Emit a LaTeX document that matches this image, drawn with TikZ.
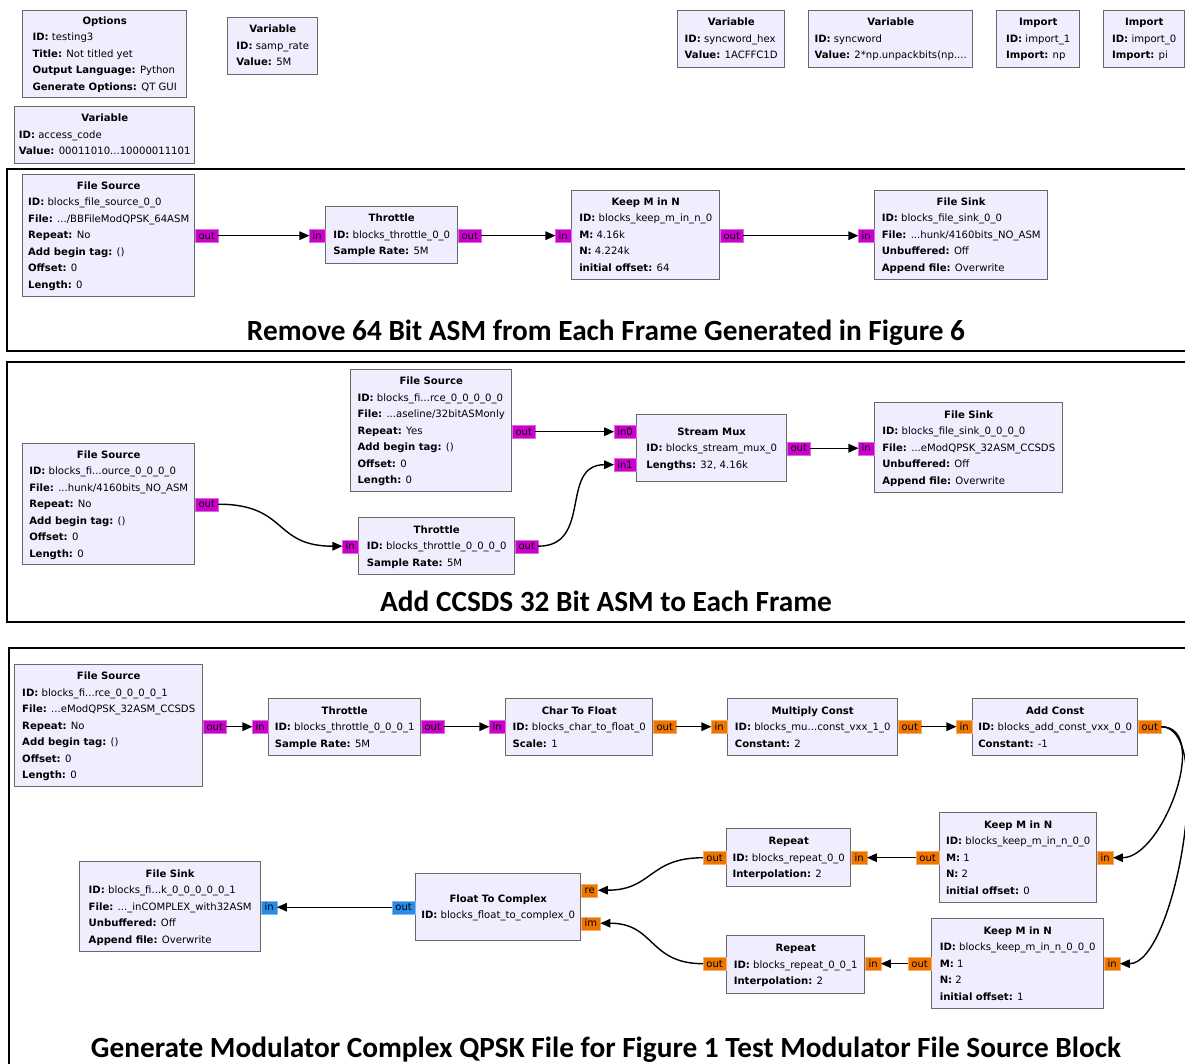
\documentclass[tikz,border=0pt]{standalone}
\usepackage{fontspec}
\setmainfont{DejaVu Sans}
\newfontfamily\capfont{Carlito}
\usetikzlibrary{arrows.meta}
\setlength{\parindent}{0pt}
\definecolor{blkfill}{RGB}{240,237,255}
\definecolor{blkline}{RGB}{105,105,105}
\definecolor{bytec}{RGB}{204,0,204}
\definecolor{floatc}{RGB}{238,118,0}
\definecolor{cplxc}{RGB}{40,140,230}
\newcommand{\blkt}[2]{\begin{tabular}{@{}l@{}}\multicolumn{1}{@{}c@{}}{\textbf{#1}}\\#2\end{tabular}}
\tikzset{
  blk/.style={draw=blkline, fill=blkfill, line width=1.4pt, anchor=north west, inner sep=0pt,
    font=\fontsize{10.1}{16.5}\selectfont},
  port/.style={inner xsep=3pt, inner ysep=0pt, minimum height=13pt, text height=7pt,
    text depth=0pt, line width=0.4pt, font=\fontsize{10}{11}\selectfont},
  bp/.style={port, fill=bytec, draw=bytec!60!white},
  fp/.style={port, fill=floatc, draw=floatc!60!white},
  cp/.style={port, fill=cplxc, draw=cplxc!60!white},
  link/.style={line width=1.4pt, -{Triangle[length=10pt,width=8.5pt]}},
  frm/.style={line width=2pt},
  figcap/.style={font=\capfont\bfseries\fontsize{29.3}{34}\selectfont, anchor=base}
}
\begin{document}
\begin{tikzpicture}[x=1pt,y=-1pt]
\useasboundingbox (0,0) rectangle (1185,1064);
\draw[frm] (7,169) rectangle (1200,351);
\draw[frm] (7,362) rectangle (1200,622);
\draw[frm] (9,648) rectangle (1200,1080);

\node[blk, minimum width=164, minimum height=87] (opts) at (22,10) {\blkt{Options}{
  \textbf{ID:} testing3\\ \textbf{Title:} Not titled yet\\ \textbf{Output Language:} Python\\ \textbf{Generate Options:} QT GUI}};
\node[blk, minimum width=90, minimum height=57] (vsr) at (227,17) {\blkt{Variable}{
  \textbf{ID:} samp\_rate\\ \textbf{Value:} 5M}};
\node[blk, minimum width=180, minimum height=57] (vac) at (14,106) {\blkt{Variable}{
  \textbf{ID:} access\_code\\ \textbf{Value:} 00011010...10000011101}};
\node[blk, minimum width=107, minimum height=57] (vsh) at (677,10) {\blkt{Variable}{
  \textbf{ID:} syncword\_hex\\ \textbf{Value:} 1ACFFC1D}};
\node[blk, minimum width=164, minimum height=57] (vsw) at (808,10) {\blkt{Variable}{
  \textbf{ID:} syncword\\ \textbf{Value:} 2*np.unpackbits(np....}};
\node[blk, minimum width=83, minimum height=57] (imp1) at (996,10) {\blkt{Import}{
  \textbf{ID:} import\_1\\ \textbf{Import:} np}};
\node[blk, minimum width=81, minimum height=57] (imp0) at (1103,10) {\blkt{Import}{
  \textbf{ID:} import\_0\\ \textbf{Import:} pi}};

\node[blk, minimum width=172, minimum height=122] (fsa) at (22,174) {\blkt{File Source}{
  \textbf{ID:} blocks\_file\_source\_0\_0\\ \textbf{File:} .../BBFileModQPSK\_64ASM\\ \textbf{Repeat:} No\\
  \textbf{Add begin tag:} ()\\ \textbf{Offset:} 0\\ \textbf{Length:} 0}};
\node[blk, minimum width=132, minimum height=57] (tha) at (325,206) {\blkt{Throttle}{
  \textbf{ID:} blocks\_throttle\_0\_0\\ \textbf{Sample Rate:} 5M}};
\node[blk, minimum width=148, minimum height=89] (kma) at (571,190) {\blkt{Keep M in N}{
  \textbf{ID:} blocks\_keep\_m\_in\_n\_0\\ \textbf{M:} 4.16k\\ \textbf{N:} 4.224k\\ \textbf{initial offset:} 64}};
\node[blk, minimum width=173, minimum height=89] (fka) at (874,190) {\blkt{File Sink}{
  \textbf{ID:} blocks\_file\_sink\_0\_0\\ \textbf{File:} ...hunk/4160bits\_NO\_ASM\\ \textbf{Unbuffered:} Off\\
  \textbf{Append file:} Overwrite}};
\node[bp, anchor=west] (fsa-o) at (fsa.east) {out};
\node[bp, anchor=east] (tha-i) at (tha.west |- fsa-o) {in};
\node[bp, anchor=west] (tha-o) at (tha.east |- fsa-o) {out};
\node[bp, anchor=east] (kma-i) at (kma.west |- fsa-o) {in};
\node[bp, anchor=west] (kma-o) at (kma.east |- fsa-o) {out};
\node[bp, anchor=east] (fka-i) at (fka.west |- fsa-o) {in};
\draw[link] (fsa-o) -- (tha-i);
\draw[link] (tha-o) -- (kma-i);
\draw[link] (kma-o) -- (fka-i);
\node[figcap] (capa) at (606,341) {Remove 64 Bit ASM from Each Frame Generated in Figure 6};

\node[blk, minimum width=161, minimum height=122] (fsb) at (350,369) {\blkt{File Source}{
  \textbf{ID:} blocks\_fi...rce\_0\_0\_0\_0\_0\\ \textbf{File:} ...aseline/32bitASMonly\\ \textbf{Repeat:} Yes\\
  \textbf{Add begin tag:} ()\\ \textbf{Offset:} 0\\ \textbf{Length:} 0}};
\node[blk, minimum width=172, minimum height=121] (fsc) at (22,443) {\blkt{File Source}{
  \textbf{ID:} blocks\_fi...ource\_0\_0\_0\_0\\ \textbf{File:} ...hunk/4160bits\_NO\_ASM\\ \textbf{Repeat:} No\\
  \textbf{Add begin tag:} ()\\ \textbf{Offset:} 0\\ \textbf{Length:} 0}};
\node[blk, minimum width=156, minimum height=57] (thb) at (358,517) {\blkt{Throttle}{
  \textbf{ID:} blocks\_throttle\_0\_0\_0\_0\\ \textbf{Sample Rate:} 5M}};
\node[blk, minimum width=150, minimum height=67] (mux) at (636,414) {\blkt{Stream Mux}{
  \textbf{ID:} blocks\_stream\_mux\_0\\ \textbf{Lengths:} 32, 4.16k}};
\node[blk, minimum width=188, minimum height=90] (fkb) at (874,402) {\blkt{File Sink}{
  \textbf{ID:} blocks\_file\_sink\_0\_0\_0\_0\\ \textbf{File:} ...eModQPSK\_32ASM\_CCSDS\\ \textbf{Unbuffered:} Off\\
  \textbf{Append file:} Overwrite}};
\node[bp, anchor=west] (fsb-o) at ([yshift=-1pt]fsb.east) {out};
\node[bp, anchor=west] (fsc-o) at (fsc.east) {out};
\node[bp, anchor=east] (thb-i) at (thb.west) {in};
\node[bp, anchor=west] (thb-o) at (thb.east) {out};
\node[bp, anchor=east] (mux-i0) at (mux.west |- fsb-o) {in0};
\node[bp, anchor=east] (mux-i1) at ([yshift=-16.5pt]mux.west) {in1};
\node[bp, anchor=west] (mux-o) at (mux.east) {out};
\node[bp, anchor=east] (fkb-i) at (fkb.west |- mux-o) {in};
\draw[link] (fsb-o) -- (mux-i0);
\draw[link] (fsc-o.east) .. controls +(70,0) and +(-70,0) .. (thb-i.west);
\draw[link] (thb-o.east) .. controls +(55,0) and +(-55,0) .. (mux-i1.west);
\draw[link] (mux-o) -- (fkb-i);
\node[figcap] (capb) at (606,611) {Add CCSDS 32 Bit ASM to Each Frame};

\node[blk, minimum width=188, minimum height=122] (fsd) at (14,664) {\blkt{File Source}{
  \textbf{ID:} blocks\_fi...rce\_0\_0\_0\_0\_1\\ \textbf{File:} ...eModQPSK\_32ASM\_CCSDS\\ \textbf{Repeat:} No\\
  \textbf{Add begin tag:} ()\\ \textbf{Offset:} 0\\ \textbf{Length:} 0}};
\node[blk, minimum width=152, minimum height=57] (thc) at (268,698) {\blkt{Throttle}{
  \textbf{ID:} blocks\_throttle\_0\_0\_0\_1\\ \textbf{Sample Rate:} 5M}};
\node[blk, minimum width=147, minimum height=57] (c2f) at (505,698) {\blkt{Char To Float}{
  \textbf{ID:} blocks\_char\_to\_float\_0\\ \textbf{Scale:} 1}};
\node[blk, minimum width=170, minimum height=57] (mul) at (727,698) {\blkt{Multiply Const}{
  \textbf{ID:} blocks\_mu...const\_vxx\_1\_0\\ \textbf{Constant:} 2}};
\node[blk, minimum width=165, minimum height=57] (add) at (972,698) {\blkt{Add Const}{
  \textbf{ID:} blocks\_add\_const\_vxx\_0\_0\\ \textbf{Constant:} -1}};
\node[blk, minimum width=157, minimum height=90] (kmb) at (939,812) {\blkt{Keep M in N}{
  \textbf{ID:} blocks\_keep\_m\_in\_n\_0\_0\\ \textbf{M:} 1\\ \textbf{N:} 2\\ \textbf{initial offset:} 0}};
\node[blk, minimum width=124, minimum height=58] (rpa) at (726,828) {\blkt{Repeat}{
  \textbf{ID:} blocks\_repeat\_0\_0\\ \textbf{Interpolation:} 2}};
\node[blk, minimum width=172, minimum height=90] (kmc) at (931,918) {\blkt{Keep M in N}{
  \textbf{ID:} blocks\_keep\_m\_in\_n\_0\_0\_0\\ \textbf{M:} 1\\ \textbf{N:} 2\\ \textbf{initial offset:} 1}};
\node[blk, minimum width=138, minimum height=58] (rpb) at (726,935) {\blkt{Repeat}{
  \textbf{ID:} blocks\_repeat\_0\_0\_1\\ \textbf{Interpolation:} 2}};
\node[blk, minimum width=165, minimum height=67] (f2c) at (415,873) {\blkt{Float To Complex}{
  \textbf{ID:} blocks\_float\_to\_complex\_0}};
\node[blk, minimum width=181, minimum height=90] (fkc) at (79,861) {\blkt{File Sink}{
  \textbf{ID:} blocks\_fi...k\_0\_0\_0\_0\_0\_1\\ \textbf{File:} ...\_inCOMPLEX\_with32ASM\\ \textbf{Unbuffered:} Off\\
  \textbf{Append file:} Overwrite}};
\node[bp, anchor=west] (fsd-o) at ([yshift=-1pt]fsd.east) {out};
\node[bp, anchor=east] (thc-i) at (thc.west |- fsd-o) {in};
\node[bp, anchor=west] (thc-o) at (thc.east |- fsd-o) {out};
\node[bp, anchor=east] (c2f-i) at (c2f.west |- fsd-o) {in};
\node[fp, anchor=west] (c2f-o) at (c2f.east |- fsd-o) {out};
\node[fp, anchor=east] (mul-i) at (mul.west |- fsd-o) {in};
\node[fp, anchor=west] (mul-o) at (mul.east |- fsd-o) {out};
\node[fp, anchor=east] (add-i) at (add.west |- fsd-o) {in};
\node[fp, anchor=west] (add-o) at (add.east |- fsd-o) {out};
\node[fp, anchor=west] (kmb-i) at (kmb.east) {in};
\node[fp, anchor=east] (kmb-o) at (kmb.west) {out};
\node[fp, anchor=west] (rpa-i) at (rpa.east |- kmb-o) {in};
\node[fp, anchor=east] (rpa-o) at (rpa.west |- kmb-o) {out};
\node[fp, anchor=west] (kmc-i) at (kmc.east) {in};
\node[fp, anchor=east] (kmc-o) at (kmc.west) {out};
\node[fp, anchor=west] (rpb-i) at (rpb.east |- kmc-o) {in};
\node[fp, anchor=east] (rpb-o) at (rpb.west |- kmc-o) {out};
\node[fp, anchor=west] (f2c-re) at ([yshift=17pt]f2c.east) {re};
\node[fp, anchor=west] (f2c-im) at ([yshift=-16pt]f2c.east) {im};
\node[cp, anchor=east] (f2c-o) at (f2c.west) {out};
\node[cp, anchor=west] (fkc-i) at (fkc.east |- f2c-o) {in};
\draw[link] (fsd-o) -- (thc-i);
\draw[link] (thc-o) -- (c2f-i);
\draw[link] (c2f-o) -- (mul-i);
\draw[link] (mul-o) -- (add-i);
\draw[link] (add-o.east) .. controls +(50,0) and +(50,0) .. (kmb-i.east);
\draw[link] (add-o.east) .. controls +(55,0) and +(55,0) .. (kmc-i.east);
\draw[link] (kmb-o) -- (rpa-i);
\draw[link] (kmc-o) -- (rpb-i);
\draw[link] (rpa-o.west) .. controls +(-55,0) and +(55,0) .. (f2c-re.east);
\draw[link] (rpb-o.west) .. controls +(-55,0) and +(55,0) .. (f2c-im.east);
\draw[link] (f2c-o) -- (fkc-i);
\node[figcap] (capc) at (606,1057) {Generate Modulator Complex QPSK File for Figure 1 Test Modulator File Source Block};
\end{tikzpicture}
\end{document}
